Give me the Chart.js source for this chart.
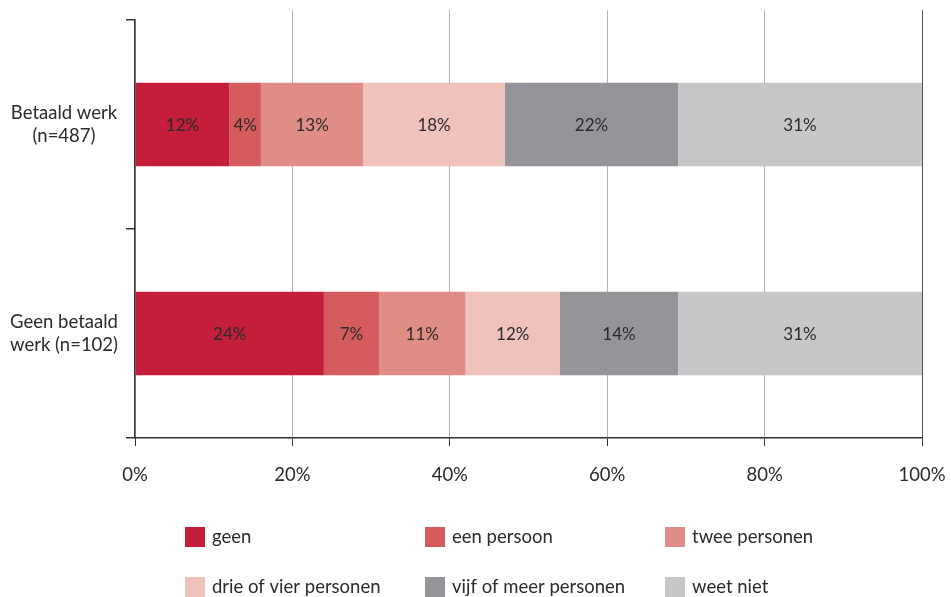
<!DOCTYPE html>
<html>
<head>
<meta charset="utf-8">
<script src="https://cdn.jsdelivr.net/npm/chart.js@4/dist/chart.umd.min.js"></script>
<style>
  html, body { margin: 0; padding: 0; background: #fff; }
  #wrap { width: 951px; height: 597px; }
</style>
</head>
<body>
<div id="wrap"><canvas id="bar_chart" width="951" height="597"></canvas></div>
<script>
// categorieen en reeksen
const categorieen = [['Betaald werk', '(n=487)'], ['Geen betaald', 'werk (n=102)']];
const reeksen = ['geen', 'een persoon', 'twee personen', 'drie of vier personen', 'vijf of meer personen', 'weet niet'];
const kleuren = ['#c41e3a', '#d55c5c', '#df8d86', '#efc2bc', '#949599', '#c6c7c9'];

const geen = [12, 24];
const eenPersoon = [4, 7];
const tweePersonen = [13, 11];
const drieOfVier = [18, 12];
const vijfOfMeer = [22, 15];
const weetNiet = [31, 31];

// percentages zoals ze in de balken staan
const labelsGeen = ['12%', '24%'];
const labelsEen = ['4%', '7%'];
const labelsTwee = ['13%', '11%'];
const labelsDrie = ['18%', '12%'];
const labelsVijf = ['22%', '14%'];
const labelsWeet = ['31%', '31%'];

const xTicks = ['0%', '20%', '40%', '60%', '80%', '100%'];

const waarden = [geen, eenPersoon, tweePersonen, drieOfVier, vijfOfMeer, weetNiet];
const teksten = [labelsGeen, labelsEen, labelsTwee, labelsDrie, labelsVijf, labelsWeet];

const FONT = 'Lato, "Open Sans", sans-serif';
const TEKST = '#2b2b2b';

// labels in de balken
const balkLabels = {
    id: 'balkLabels',
    afterDatasetsDraw(chart) {
        const ctx = chart.ctx;
        ctx.save();
        ctx.font = '17px ' + FONT;
        ctx.fillStyle = TEKST;
        ctx.textAlign = 'center';
        ctx.textBaseline = 'middle';
        chart.data.datasets.forEach((ds, i) => {
            chart.getDatasetMeta(i).data.forEach((bar, j) => {
                const x = (bar.x + bar.base) / 2;
                ctx.fillText(ds.teksten[j], x, bar.y + 1);
            });
        });
        ctx.restore();
    }
};

// rasterlijnen steken iets boven de grafiek uit
const rasterBoven = {
    id: 'rasterBoven',
    beforeDatasetsDraw(chart) {
        const ctx = chart.ctx;
        const x = chart.scales.x;
        const top = chart.chartArea.top;
        ctx.save();
        ctx.lineWidth = 1;
        x.ticks.forEach((t, i) => {
            if (i === 0) return;
            const px = Math.round(x.getPixelForValue(t.value) - 0.5) + 0.5;
            ctx.strokeStyle = i === 5 ? '#555' : '#b5b5b5';
            ctx.beginPath();
            ctx.moveTo(px, top - 10);
            ctx.lineTo(px, top);
            ctx.stroke();
        });
        ctx.restore();
    }
};

// legenda in 3 kolommen
const legenda = {
    id: 'legenda',
    afterDraw(chart) {
        const ctx = chart.ctx;
        const links = chart.chartArea.left + 50;
        ctx.save();
        ctx.font = '18.5px ' + FONT;
        ctx.textBaseline = 'middle';
        chart.data.datasets.forEach((ds, i) => {
            const kol = i % 3;
            const rij = Math.floor(i / 3);
            const x = links + kol * 240;
            const y = 537 + rij * 50;
            ctx.fillStyle = ds.backgroundColor;
            ctx.fillRect(x, y - 10, 20, 20);
            ctx.fillStyle = TEKST;
            ctx.fillText(ds.label, x + 27, y);
        });
        ctx.restore();
    }
};

const datasets = reeksen.map((naam, i) => ({
    label: naam,
    data: waarden[i],
    teksten: teksten[i],
    backgroundColor: kleuren[i],
    borderWidth: 0,
    barPercentage: 0.4,
    categoryPercentage: 1
}));

new Chart(document.getElementById('bar_chart').getContext('2d'), {
    type: 'bar',
    data: { labels: categorieen, datasets: datasets },
    options: {
        indexAxis: 'y',
        responsive: false,
        animation: false,
        layout: { padding: { top: 20, left: 2, right: 29, bottom: 109 } },
        plugins: {
            legend: { display: false },
            tooltip: { enabled: false }
        },
        scales: {
            x: {
                stacked: true,
                min: 0,
                max: 100,
                afterFit: (s) => { s.paddingLeft = 0; s.paddingRight = 0; s.height = 50; },
                ticks: {
                    stepSize: 20,
                    color: TEKST,
                    font: { family: FONT, size: 18.5 },
                    padding: 18,
                    callback: (v, i) => xTicks[i]
                },
                grid: {
                    color: (c) => c.index === 5 ? '#555' : '#b5b5b5',
                    tickColor: '#333',
                    tickLength: 8,
                    lineWidth: 1
                },
                border: { color: '#333', width: 1.5 }
            },
            y: {
                stacked: true,
                afterFit: (s) => { s.paddingTop = 0; s.paddingBottom = 0; },
                ticks: {
                    color: TEKST,
                    font: { family: FONT, size: 18.5, lineHeight: 1.25 },
                    crossAlign: 'center',
                    padding: 8
                },
                grid: {
                    offset: true,
                    drawOnChartArea: false,
                    color: '#333',
                    tickLength: 9,
                    lineWidth: 1.5
                },
                border: { color: '#333', width: 1.5 }
            }
        }
    },
    plugins: [rasterBoven, balkLabels, legenda]
});
</script>
</body>
</html>
